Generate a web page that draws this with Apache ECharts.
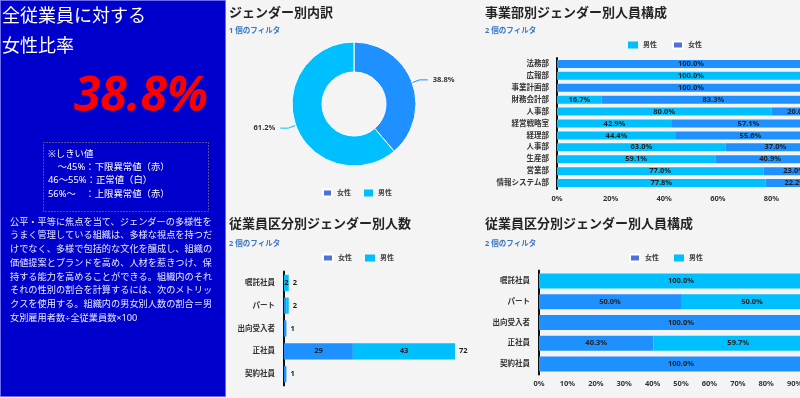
<!DOCTYPE html>
<html>
<head>
<meta charset="utf-8">
<script src="https://cdn.jsdelivr.net/npm/echarts@6/dist/echarts.min.js"></script>
<style>
  html, body { margin: 0; padding: 0; background: #f4f4f4; }
  #main { width: 800px; height: 398px; }
</style>
</head>
<body>
<div id="main"></div>
<script>
// ジェンダー別内訳
var genderNames = ['女性', '男性']
var genderShare = [38.8, 61.2]

// 事業部別ジェンダー別人員構成 (%)
var deptNames = ['法務部', '広報部', '事業計画部', '財務会計部', '人事部', '経営戦略室', '経理部', '人事部', '生産部', '営業部', '情報システム部']
var deptMale = [0, 100, 0, 16.7, 80.0, 42.9, 44.4, 63.0, 59.1, 77.0, 77.8]
var deptFemale = [100, 0, 100, 83.3, 20.0, 57.1, 55.6, 37.0, 40.9, 23.0, 22.2]

// 従業員区分別ジェンダー別人数
var empTypes = ['嘱託社員', 'パート', '出向受入者', '正社員', '契約社員']
var empFemale = [0, 1, 1, 29, 1]
var empMale = [2, 1, 0, 43, 0]

// 従業員区分別ジェンダー別人員構成 (%)
var empFemalePct = [0, 50.0, 100, 40.3, 100]
var empMalePct = [100, 50.0, 0, 59.7, 0]

var kpiValue = '38.8%'
var thresholdLines = ['※しきい値', '　～45%：下限異常値（赤）', '46～55%：正常値（白）', '56%～　：上限異常値（赤）']
var descLines = [
  '公平・平等に焦点を当て、ジェンダーの多様性を',
  'うまく管理している組織は、多様な視点を持つだ',
  'けでなく、多様で包括的な文化を醸成し、組織の',
  '価値提案とブランドを高め、人材を惹きつけ、保',
  '持する能力を高めることができる。組織内のそれ',
  'それの性別の割合を計算するには、次のメトリッ',
  'クスを使用する。組織内の男女別人数の割合＝男',
  '女別雇用者数÷全従業員数×100'
]

var FEMALE = '#1e90ff'
var MALE = '#00bfff'
var FONT = '"Noto Sans", "Noto Sans CJK JP", sans-serif'

var empTotals = empFemale.map(function(v, i) { return v + empMale[i] })

var titleStyle = { fontSize: 13, fontWeight: 'bold', color: '#252423', fontFamily: FONT }
var subStyle = { fontSize: 7.5, fontWeight: 'bold', color: '#3a78c0', fontFamily: FONT }
var axisLbl = { fontSize: 7.5, fontWeight: 'bold', color: '#333', fontFamily: FONT }
var legendText = { fontSize: 7, fontWeight: 'bold', color: '#444', fontFamily: FONT }

function pctLabel(p) {
  return p.value > 0 ? p.value.toFixed(1) + '%' : ''
}
function barLabel(fmt) {
  return { show: true, position: 'inside', fontSize: 7.5, fontWeight: 'bold', color: '#222', fontFamily: FONT, formatter: fmt }
}

var chart = echarts.init(document.getElementById('main'))
chart.setOption({
  backgroundColor: '#f4f4f4',
  animation: false,
  textStyle: { fontFamily: FONT },
  title: [
    { text: 'ジェンダー別内訳', left: 229, top: 7, padding: 0, textStyle: titleStyle },
    { text: '1 個のフィルタ', left: 229, top: 27, padding: 0, textStyle: subStyle },
    { text: '事業部別ジェンダー別人員構成', left: 485, top: 7, padding: 0, textStyle: titleStyle },
    { text: '2 個のフィルタ', left: 485, top: 27, padding: 0, textStyle: subStyle },
    { text: '従業員区分別ジェンダー別人数', left: 229, top: 218, padding: 0, textStyle: titleStyle },
    { text: '2 個のフィルタ', left: 229, top: 240, padding: 0, textStyle: subStyle },
    { text: '従業員区分別ジェンダー別人員構成', left: 485, top: 218, padding: 0, textStyle: titleStyle },
    { text: '2 個のフィルタ', left: 485, top: 240, padding: 0, textStyle: subStyle }
  ],
  legend: [
    { data: ['女性', '男性'], icon: 'rect', left: 322, top: 188.5, padding: 0, itemWidth: 9, itemHeight: 7, itemGap: 13, textStyle: legendText },
    { data: ['男性', '女性'], icon: 'rect', left: 628, top: 40.5, padding: 0, itemWidth: 10, itemHeight: 7, itemGap: 15, textStyle: legendText },
    { data: ['女性', '男性'], icon: 'rect', left: 322, top: 253.5, padding: 0, itemWidth: 10, itemHeight: 7, itemGap: 13, textStyle: legendText },
    { data: ['女性', '男性'], icon: 'rect', left: 629, top: 253.5, padding: 0, itemWidth: 10, itemHeight: 7, itemGap: 15, textStyle: legendText }
  ],
  grid: [
    { left: 557, top: 58, width: 268, height: 131, outerBoundsMode: 'none' },
    { left: 284, top: 271.5, width: 171, height: 114, outerBoundsMode: 'none' },
    { left: 539, top: 270.5, width: 284, height: 104, outerBoundsMode: 'none' }
  ],
  xAxis: [
    {
      gridIndex: 0, type: 'value', min: 0, max: 100, interval: 20,
      axisLine: { show: false }, axisTick: { show: false }, splitLine: { show: false },
      axisLabel: Object.assign({ formatter: '{value}%', margin: 6 }, axisLbl)
    },
    { gridIndex: 1, type: 'value', min: 0, max: 72, show: false },
    {
      gridIndex: 2, type: 'value', min: 0, max: 100, interval: 10,
      axisLine: { show: false }, axisTick: { show: false }, splitLine: { show: false },
      axisLabel: Object.assign({ formatter: '{value}%', margin: 6 }, axisLbl)
    }
  ],
  yAxis: [
    {
      gridIndex: 0, type: 'category', data: deptNames, inverse: true,
      axisLine: { lineStyle: { color: '#111', width: 2 } }, axisTick: { show: false },
      axisLabel: Object.assign({ margin: 8 }, axisLbl)
    },
    {
      gridIndex: 1, type: 'category', data: empTypes, inverse: true,
      axisLine: { lineStyle: { color: '#111', width: 2 } }, axisTick: { show: false },
      axisLabel: Object.assign({ margin: 9 }, axisLbl)
    },
    {
      gridIndex: 2, type: 'category', data: empTypes, inverse: true,
      axisLine: { lineStyle: { color: '#111', width: 2 } }, axisTick: { show: false },
      axisLabel: Object.assign({ margin: 9 }, axisLbl)
    }
  ],
  series: [
    {
      name: '女性', type: 'pie', center: [354, 104], radius: [32, 62],
      startAngle: 90, clockwise: true,
      data: genderNames.map(function(n, i) {
        return { name: n, value: genderShare[i], itemStyle: { color: i === 0 ? FEMALE : MALE } }
      }),
      itemStyle: { borderColor: '#fff', borderWidth: 1 },
      label: {
        fontSize: 7.5, fontWeight: 'bold', color: '#333', fontFamily: FONT,
        formatter: function(p) { return p.value.toFixed(1) + '%' }
      },
      labelLine: { length: 8, length2: 8, lineStyle: { width: 1 } },
      emphasis: { disabled: true }
    },
    // 事業部別
    {
      name: '男性', type: 'bar', stack: 'dept', xAxisIndex: 0, yAxisIndex: 0,
      barCategoryGap: '33%', itemStyle: { color: MALE }, data: deptMale, label: barLabel(pctLabel)
    },
    {
      name: '女性', type: 'bar', stack: 'dept', xAxisIndex: 0, yAxisIndex: 0,
      barCategoryGap: '33%', itemStyle: { color: FEMALE }, data: deptFemale, label: barLabel(pctLabel)
    },
    // 人数
    {
      name: '女性', type: 'bar', stack: 'cnt', xAxisIndex: 1, yAxisIndex: 1,
      barCategoryGap: '29%', itemStyle: { color: FEMALE }, data: empFemale,
      label: barLabel(function(p) { return p.value >= 2 ? p.value : '' })
    },
    {
      name: '男性', type: 'bar', stack: 'cnt', xAxisIndex: 1, yAxisIndex: 1,
      barCategoryGap: '29%', itemStyle: { color: MALE }, data: empMale,
      label: barLabel(function(p) { return p.value >= 2 ? p.value : '' })
    },
    {
      name: '合計', type: 'bar', stack: 'cnt', xAxisIndex: 1, yAxisIndex: 1,
      barCategoryGap: '29%', itemStyle: { color: 'transparent' },
      data: empTotals.map(function() { return 0 }),
      label: {
        show: true, position: 'right', distance: 4, fontSize: 7.5, fontWeight: 'bold', color: '#222', fontFamily: FONT,
        formatter: function(p) { return empTotals[p.dataIndex] }
      }
    },
    // 人員構成
    {
      name: '女性', type: 'bar', stack: 'pct', xAxisIndex: 2, yAxisIndex: 2,
      barCategoryGap: '28%', itemStyle: { color: FEMALE }, data: empFemalePct, label: barLabel(pctLabel)
    },
    {
      name: '男性', type: 'bar', stack: 'pct', xAxisIndex: 2, yAxisIndex: 2,
      barCategoryGap: '28%', itemStyle: { color: MALE }, data: empMalePct, label: barLabel(pctLabel)
    }
  ],
  graphic: [
    {
      type: 'rect', z: 0, silent: true,
      shape: { x: 0.5, y: 0.5, width: 225, height: 396 },
      style: { fill: '#0000cd', stroke: '#6b6bf0', lineWidth: 1 }
    },
    {
      type: 'text', x: 2, y: 17, silent: true,
      style: { text: '全従業員に対する', fill: '#fff', fontSize: 18, fontFamily: FONT, textVerticalAlign: 'middle' }
    },
    {
      type: 'text', x: 2, y: 47, silent: true,
      style: { text: '女性比率', fill: '#fff', fontSize: 18, fontFamily: FONT, textVerticalAlign: 'middle' }
    },
    {
      type: 'text', x: 141, y: 97, silent: true,
      style: {
        text: kpiValue, fill: '#ff0000', fontSize: 48, fontWeight: 'bold', fontStyle: 'italic',
        fontFamily: FONT, textAlign: 'center', textVerticalAlign: 'middle'
      }
    },
    {
      type: 'rect', silent: true,
      shape: { x: 43.5, y: 142.5, width: 165, height: 69 },
      style: { fill: 'none', stroke: '#a0a040', lineWidth: 1, lineDash: [1, 2] }
    },
    {
      type: 'text', x: 48, y: 147.5, silent: true,
      style: { text: thresholdLines.join('\n'), fill: '#fff', fontSize: 9.4, lineHeight: 13.3, fontFamily: FONT }
    },
    {
      type: 'text', x: 10, y: 215.3, silent: true,
      style: { text: descLines.join('\n'), fill: '#eaeaff', fontSize: 9.2, lineHeight: 13.7, fontFamily: FONT }
    }
  ]
})
</script>
</body>
</html>
